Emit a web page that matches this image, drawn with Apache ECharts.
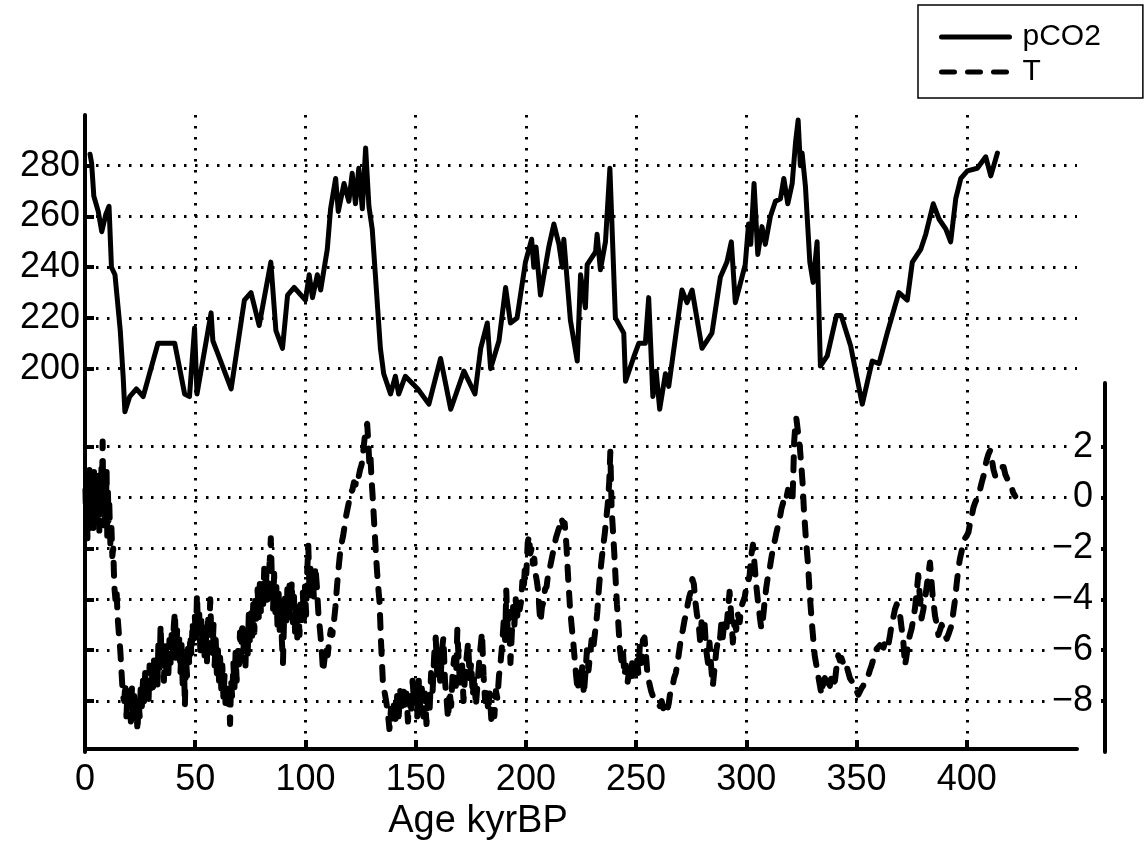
<!DOCTYPE html>
<html>
<head>
<meta charset="utf-8">
<script src="https://cdn.jsdelivr.net/npm/echarts@6/dist/echarts.min.js"></script>
<style>
  html, body { margin: 0; padding: 0; background: #fff; }
  #chart { width: 1145px; height: 846px; }
</style>
</head>
<body>
<div id="chart"></div>
<script>
// Vostok ice core: atmospheric CO2 (ppmv) against age (kyr BP)
const co2Data = [
  [2.3, 284.5], [3.0, 281], [4.0, 268], [6.0, 262], [7.6, 254], [9.5, 261], [10.9, 264],
  [12.0, 240], [13.6, 237], [16.0, 215], [17.3, 197], [18.1, 183], [20.3, 189], [23.3, 192],
  [26.4, 189], [33.1, 210], [40.7, 210], [45.2, 190], [47.4, 189], [49.7, 216], [50.8, 190],
  [57.2, 222], [58.0, 211], [60.2, 206], [66.3, 192], [72.3, 227], [75.3, 230], [79.0, 217],
  [84.3, 242], [86.6, 215], [89.6, 208], [91.9, 229], [94.9, 232], [100.0, 227], [101.7, 237],
  [103.2, 228], [105.4, 237], [106.9, 231], [109.9, 247], [111.4, 263], [113.7, 275], [114.9, 262],
  [117.5, 273], [119.7, 266], [121.2, 277], [122.7, 265], [124.2, 279], [125.8, 263], [127.3, 287],
  [128.8, 264], [130.3, 255], [134.0, 208], [135.5, 198], [138.6, 190], [140.8, 197], [142.3, 190],
  [145.3, 197], [151.0, 192], [156.0, 186], [161.3, 204], [165.9, 184], [171.9, 199], [176.9, 190],
  [179.5, 208], [182.5, 218], [184.0, 200], [187.8, 211], [190.8, 232], [193.0, 218], [196.0, 220],
  [199.8, 242], [202.6, 251], [203.6, 240], [204.6, 248], [206.6, 229], [210.4, 248], [212.7, 257],
  [215.0, 249], [216.5, 240], [217.2, 251], [220.2, 219], [223.3, 203], [224.8, 237], [227.0, 224],
  [227.8, 241], [231.6, 246], [232.3, 253], [233.8, 239], [236.1, 250], [238.1, 279], [240.6, 220],
  [244.4, 214], [245.2, 195], [248.9, 204.5], [251.2, 210], [254.2, 210], [255.7, 228], [257.6, 189],
  [259.1, 199], [260.7, 184], [263.3, 198], [264.8, 193], [270.8, 231], [273.1, 226], [275.4, 231],
  [279.9, 208], [284.4, 214], [288.2, 236], [291.2, 242], [293.2, 250], [295.0, 226], [299.5, 241],
  [301.0, 257], [302.0, 249], [303.5, 273], [305.2, 245], [307.1, 256], [308.6, 249], [310.9, 260],
  [313.2, 266], [315.5, 267], [317.0, 275], [318.8, 265], [320.8, 273], [322.3, 289], [323.5, 298],
  [324.5, 280], [325.3, 285], [326.8, 272], [328.8, 242], [330.3, 234], [332.1, 250], [333.6, 201],
  [336.7, 205], [340.9, 221], [343.0, 221], [347.3, 209], [352.6, 186], [357.1, 203], [360.2, 202],
  [363.9, 214], [369.2, 230], [373.0, 227], [375.3, 242], [379.1, 247], [381.4, 253], [384.8, 265],
  [387.4, 259], [390.5, 255], [392.7, 250], [395.0, 267], [397.3, 275], [400.3, 278], [404.8, 279],
  [408.6, 283.5], [410.9, 276], [413.9, 285]
];

// Vostok ice core: temperature anomaly (deg C) against age (kyr BP)
const tempData = [
  [0.2, 0.3], [0.5, -0.9], [0.8, 0.9], [1.1, -1.6], [1.4, 0.5], [1.7, -0.4], [2.0, 1.2], [2.3, -1.2],
  [2.6, 0.2], [2.9, 0.8], [3.2, -0.8], [3.5, 0.4], [3.8, -1.4], [4.1, 1.0], [4.4, -0.3], [4.7, 0.6],
  [5.0, -1.0], [5.3, 0.9], [5.6, -0.6], [5.9, 0.2], [6.2, 1.1], [6.5, -1.3], [6.8, 0.4], [7.1, -0.2],
  [7.4, 1.3], [7.7, 0.0], [8.0, 2.2], [8.3, -0.5], [8.6, 0.8], [8.9, -1.1], [9.2, 0.6], [9.5, -0.4],
  [9.8, 1.0], [10.1, -1.5], [10.4, 0.2], [10.7, -0.9], [11.0, -0.2],
  [11.5, -1.8], [12.0, -1.2], [12.4, -2.3], [12.8, -2.0], [13.3, -3.5], [13.8, -4.0], [14.3, -3.6],
  [14.8, -4.7], [15.5, -5.5], [16.0, -6.0], [16.6, -6.9], [17.2, -7.8],
  [17.8, -8.0], [18.3, -7.3], [18.8, -8.6], [19.3, -7.6], [19.8, -8.4], [20.3, -7.9], [20.8, -8.8],
  [21.3, -7.5], [21.8, -8.5], [22.3, -7.8], [22.8, -8.7], [23.3, -8.1], [23.8, -9.2], [24.3, -8.0],
  [24.8, -8.6], [25.3, -7.4], [25.8, -8.2], [26.3, -7.2], [26.8, -8.0], [27.3, -6.9], [27.8, -7.8],
  [28.3, -7.1], [28.8, -8.1], [29.3, -6.6], [29.8, -7.5], [30.3, -6.8], [30.8, -7.7], [31.3, -6.4],
  [31.8, -7.3], [32.3, -6.5], [32.8, -7.6], [33.3, -5.7], [33.8, -6.9], [34.3, -5.0], [34.8, -6.6],
  [35.3, -5.9], [35.8, -7.2], [36.3, -5.8], [36.8, -6.7], [37.3, -6.1], [37.8, -7.0], [38.3, -5.6],
  [38.8, -6.5], [39.3, -5.4], [39.8, -6.2], [40.3, -5.0], [40.8, -4.5], [41.3, -6.3], [41.8, -5.2],
  [42.3, -6.4], [42.8, -5.5], [43.3, -6.9], [43.8, -5.8], [44.3, -7.3], [44.8, -6.0], [45.3, -8.2],
  [45.8, -6.3], [46.3, -7.0], [46.8, -5.7], [47.3, -6.6], [47.8, -5.4], [48.3, -6.2], [48.8, -4.9],
  [49.3, -5.8], [49.8, -4.6], [50.3, -5.6], [50.8, -3.8], [51.3, -5.3], [51.8, -4.5], [52.3, -6.0],
  [52.8, -4.8], [53.3, -5.9], [53.8, -5.1], [54.3, -6.4], [54.8, -5.3], [55.3, -6.5], [55.8, -4.6],
  [56.3, -5.6], [56.8, -4.0], [57.3, -5.4], [57.8, -6.1], [58.3, -5.0], [58.8, -6.6], [59.3, -5.6],
  [59.8, -6.9], [60.3, -6.0], [60.8, -7.2], [61.3, -6.3], [61.8, -7.5], [62.3, -6.6], [62.8, -7.9],
  [63.3, -7.0], [63.8, -8.3], [64.3, -7.3], [64.8, -8.1], [65.3, -7.6], [65.8, -8.9], [66.3, -7.2],
  [66.8, -7.9], [67.3, -6.5], [67.8, -7.5], [68.3, -6.1], [68.8, -7.2], [69.3, -5.8], [69.8, -6.8],
  [70.3, -5.3], [70.8, -6.4], [71.3, -4.9], [71.8, -6.1], [72.3, -5.2], [72.8, -6.6], [73.3, -5.0],
  [73.8, -6.2], [74.3, -4.6], [74.8, -5.7], [75.3, -4.4], [75.8, -5.5], [76.3, -4.2], [76.8, -5.3],
  [77.3, -3.9], [77.8, -5.0], [78.3, -3.6], [78.8, -4.7], [79.3, -3.4], [79.8, -4.5], [80.3, -3.2],
  [80.8, -4.3], [81.3, -2.8], [81.8, -4.0], [82.3, -3.0], [82.8, -4.2], [83.3, -3.1], [83.8, -2.5],
  [84.3, -1.6], [84.8, -3.3], [85.3, -4.4], [85.8, -3.0], [86.3, -4.6], [86.8, -3.5], [87.3, -5.0],
  [87.8, -3.6], [88.3, -5.2], [88.8, -4.0], [89.3, -5.6], [89.8, -6.5], [90.3, -4.8], [90.8, -3.8],
  [91.3, -5.0], [91.8, -3.6], [92.3, -4.7], [92.8, -3.4], [93.3, -4.4], [93.8, -3.3], [94.3, -4.9],
  [94.8, -3.9], [95.3, -5.3], [95.8, -4.1], [96.3, -5.5], [96.8, -4.3], [97.3, -5.4], [97.8, -4.0],
  [98.3, -5.0], [98.8, -3.7], [99.3, -4.8], [99.8, -3.5], [100.3, -4.6], [100.8, -2.9], [101.3, -1.9],
  [101.8, -3.6], [102.3, -2.8], [102.8, -4.0], [103.3, -3.0], [103.8, -3.9], [104.5, -2.7], [105.2, -3.5],
  [105.9, -4.6], [106.6, -5.2], [107.3, -5.9], [108.0, -6.85], [108.7, -6.3], [109.4, -5.8], [110.1, -6.2],
  [110.8, -5.6], [111.5, -5.2], [112.2, -5.4], [112.9, -4.9], [113.6, -4.3], [114.3, -3.5], [115.0, -2.8],
  [115.7, -2.2], [116.4, -1.8], [117.1, -1.5], [117.8, -1.1], [118.5, -0.7], [119.2, -0.4], [119.9, -0.1],
  [120.6, 0.2], [121.3, 0.3], [122.0, 0.6], [122.7, 0.5], [123.4, 0.9], [124.1, 0.8], [124.8, 1.1],
  [125.5, 1.3], [126.2, 1.8], [126.8, 2.3], [127.4, 2.6], [128.0, 2.9], [128.5, 2.2], [129.0, 1.3],
  [129.5, 1.6], [130.0, 0.7], [130.6, -0.1], [131.3, -1.2], [132.1, -2.4], [132.8, -3.3], [133.6, -4.1],
  [134.3, -5.7], [135.1, -7.2], [135.8, -7.6], [136.6, -8.0], [137.3, -8.4], [138.1, -9.1], [138.8, -8.3],
  [139.5, -8.9], [140.2, -8.0], [140.9, -8.7], [141.6, -7.8], [142.3, -8.6], [143.0, -7.6], [143.7, -8.4],
  [144.4, -7.4], [145.1, -8.3], [145.8, -7.7], [146.5, -8.8], [147.2, -7.9], [147.9, -8.5], [148.6, -7.2],
  [149.3, -8.1], [150.0, -7.3], [150.7, -8.6], [151.4, -7.2], [152.1, -8.3], [152.8, -7.5], [153.5, -8.6],
  [154.2, -7.7], [154.9, -8.9], [155.6, -7.9], [156.3, -8.4], [157.0, -6.9], [157.7, -7.6], [158.4, -6.2],
  [159.1, -5.5], [159.8, -7.0], [160.5, -6.1], [161.2, -7.4], [161.9, -6.0], [162.6, -5.5], [163.3, -7.2],
  [164.0, -7.9], [164.7, -8.7], [165.4, -7.6], [166.1, -8.2], [166.8, -6.8], [167.5, -6.3], [168.2, -7.4],
  [168.9, -5.2], [169.6, -6.6], [170.3, -7.5], [171.0, -6.4], [171.7, -8.0], [172.4, -7.0], [173.1, -6.3],
  [173.8, -5.7], [174.5, -7.1], [175.2, -6.5], [175.9, -7.8], [176.6, -7.0], [177.3, -8.2], [178.0, -7.4],
  [178.7, -6.6], [179.4, -5.9], [180.1, -5.3], [180.8, -7.0], [181.5, -8.0], [182.2, -7.5], [182.9, -8.4],
  [183.6, -7.7], [184.3, -8.7], [185.0, -8.2], [185.7, -8.6], [186.4, -7.6], [187.1, -7.9], [187.8, -7.0],
  [188.5, -6.5], [189.2, -5.8], [189.9, -4.9], [190.6, -5.6], [191.1, -3.65], [191.7, -5.2], [192.3, -4.5],
  [193.0, -6.5], [193.6, -5.4], [194.2, -4.3], [194.8, -5.0], [195.4, -4.0], [196.0, -4.8], [196.6, -3.9],
  [197.2, -4.4], [197.8, -4.1], [198.4, -3.3], [199.0, -3.7], [199.6, -2.6], [200.2, -3.0], [200.8, -1.8],
  [201.4, -1.5], [202.0, -2.2], [202.6, -2.0], [203.2, -2.6], [203.8, -2.4], [204.4, -3.0], [205.0, -3.3],
  [205.6, -3.7], [206.2, -4.5], [206.6, -4.9], [207.3, -4.3], [208.0, -4.1], [208.7, -3.6], [209.4, -3.5],
  [210.1, -3.0], [210.8, -2.8], [211.5, -2.5], [212.2, -2.2], [212.9, -1.9], [213.6, -1.6], [214.3, -1.4],
  [215.0, -1.2], [215.7, -1.3], [216.4, -0.9], [217.1, -1.1], [217.6, -1.0], [218.4, -1.9], [219.2, -3.2],
  [220.0, -4.3], [220.7, -5.0], [221.4, -5.6], [222.1, -6.3], [222.8, -7.0], [223.5, -7.6], [224.2, -6.9],
  [224.9, -7.3], [225.6, -6.6], [226.3, -7.75], [227.0, -6.9], [227.7, -6.0], [228.4, -6.8], [229.1, -6.2],
  [229.8, -5.6], [230.5, -6.0], [231.1, -5.5], [231.8, -5.0], [232.4, -4.5], [233.1, -3.6], [233.8, -2.9],
  [234.4, -2.4], [235.1, -1.9], [235.8, -1.4], [236.5, -0.8], [237.2, -0.2], [237.8, 0.6], [238.3, 1.8],
  [238.9, -0.45], [239.5, -1.3], [240.1, -2.2], [240.7, -3.2], [241.3, -4.2], [241.9, -4.9], [242.6, -5.9],
  [243.3, -6.4], [244.0, -6.0], [244.7, -7.0], [245.4, -6.6], [246.1, -7.3], [246.8, -6.8], [247.5, -7.2],
  [248.2, -6.5], [248.9, -7.0], [249.6, -6.7], [250.3, -6.2], [251.0, -6.9], [251.7, -5.8], [252.4, -6.5],
  [253.1, -5.6], [253.8, -5.5], [254.5, -6.2], [255.2, -7.0], [256.0, -7.3], [256.8, -7.6], [257.6, -7.8],
  [258.4, -7.9], [259.2, -8.0], [260.0, -8.1], [260.8, -8.2], [261.6, -8.0], [262.4, -8.3], [263.2, -8.2],
  [264.0, -8.4], [264.8, -8.1], [265.6, -7.6], [266.4, -7.5], [267.2, -7.1], [268.0, -6.9], [268.8, -6.5],
  [269.6, -6.0], [270.4, -5.5], [271.2, -5.2], [272.0, -4.8], [272.7, -4.6], [273.4, -4.2], [274.1, -3.9],
  [274.8, -3.7], [275.5, -3.2], [276.2, -3.4], [276.9, -4.1], [277.6, -4.6], [278.3, -4.9], [279.0, -5.6],
  [279.7, -4.9], [280.4, -5.4], [281.1, -5.0], [281.8, -6.0], [282.6, -6.5], [283.3, -5.7], [284.0, -6.6],
  [284.8, -7.4], [285.6, -6.7], [286.4, -6.0], [287.2, -5.6], [287.9, -5.7], [288.6, -5.0], [289.3, -5.5],
  [290.0, -4.9], [290.9, -5.2], [291.6, -4.5], [292.4, -3.7], [293.1, -4.6], [293.9, -5.7], [294.6, -4.9],
  [295.4, -5.2], [296.2, -4.6], [297.0, -4.9], [297.7, -4.3], [298.5, -4.1], [299.3, -3.9], [300.0, -3.5],
  [300.8, -3.3], [301.5, -3.05], [302.2, -2.3], [303.0, -1.85], [303.7, -2.6], [304.5, -3.45], [305.3, -4.1],
  [306.0, -4.6], [306.8, -5.15], [307.5, -4.8], [308.3, -4.1], [309.1, -3.5], [309.8, -3.1], [310.6, -2.8],
  [311.3, -2.4], [312.1, -2.0], [312.9, -1.7], [313.6, -1.4], [314.4, -1.1], [315.2, -0.8], [315.9, -0.45],
  [316.7, -0.2], [317.4, 0.1], [318.2, 0.0], [318.9, 0.3], [319.7, 0.2], [320.3, 0.1], [320.9, -0.2],
  [321.3, 0.9], [321.7, 2.2], [322.2, 2.8], [322.7, 3.1], [323.4, 2.6], [324.2, 2.05], [324.9, 1.3],
  [325.5, 0.6], [326.1, -0.45], [327.0, -1.6], [328.0, -2.65], [328.8, -3.85], [329.8, -5.0], [331.0, -6.2],
  [332.6, -7.0], [333.4, -7.4], [334.1, -7.75], [334.8, -7.3], [335.6, -7.1], [336.4, -7.5], [337.1, -7.2],
  [337.9, -7.4], [338.7, -7.0], [339.5, -7.3], [340.2, -7.2], [341.0, -6.6], [341.7, -6.2], [342.4, -6.4],
  [343.1, -6.3], [343.9, -6.5], [344.6, -6.7], [345.4, -6.6], [346.2, -6.85], [347.0, -7.1], [347.7, -7.2],
  [348.5, -7.3], [349.2, -7.4], [350.0, -7.6], [350.8, -7.75], [351.5, -7.7], [352.2, -7.5], [353.0, -7.4],
  [353.8, -7.2], [354.5, -7.1], [355.3, -7.0], [356.0, -6.8], [356.8, -6.6], [357.5, -6.4], [358.3, -6.2],
  [359.1, -5.95], [359.8, -6.0], [360.6, -5.8], [361.4, -5.75], [362.2, -5.9], [362.9, -5.7], [363.7, -5.9],
  [364.4, -5.8], [365.2, -5.4], [365.9, -5.0], [366.7, -4.7], [367.4, -4.4], [368.2, -4.2], [368.9, -4.3],
  [369.7, -4.6], [370.4, -5.1], [371.2, -5.65], [372.0, -6.6], [372.7, -6.2], [373.5, -5.65], [374.2, -5.4],
  [375.0, -5.15], [375.7, -4.8], [376.5, -4.35], [377.2, -3.8], [378.0, -3.05], [378.7, -3.9], [379.5, -4.75],
  [380.3, -4.4], [381.1, -4.0], [381.8, -3.5], [382.6, -3.0], [383.3, -2.55], [383.9, -3.2], [384.5, -3.85],
  [385.0, -4.2], [385.6, -4.65], [386.4, -5.0], [387.1, -5.4], [387.9, -5.2], [388.6, -5.0], [389.4, -5.2],
  [390.1, -5.4], [390.9, -5.55], [391.6, -5.4], [392.4, -5.2], [393.2, -5.0], [393.9, -4.5], [394.7, -4.0],
  [395.4, -3.4], [396.2, -2.8], [396.9, -2.4], [397.7, -2.1], [398.5, -1.75], [399.2, -1.6], [400.0, -1.5],
  [400.8, -1.35], [401.5, -1.0], [402.3, -0.7], [403.0, -0.4], [403.8, -0.2], [404.5, -0.15], [405.3, 0.1],
  [406.1, 0.35], [406.8, 0.6], [407.6, 0.85], [408.3, 1.2], [409.1, 1.5], [409.8, 1.7], [410.6, 1.85],
  [411.4, 1.5], [412.1, 1.1], [412.9, 0.85], [413.6, 1.0], [414.4, 1.1], [415.2, 1.2], [416.0, 1.25],
  [416.7, 1.2], [417.5, 0.9], [418.3, 0.75], [419.0, 0.75], [420.0, 0.5], [421.0, 0.2], [422.0, 0.05]
];

const ageTicks = [0, 50, 100, 150, 200, 250, 300, 350, 400];
const co2Ticks = [200, 220, 240, 260, 280];
const tempTicks = [-8, -6, -4, -2, 0, 2];

const FONT = '"Liberation Sans", Arial, Helvetica, sans-serif';
const AGE_MAX = 450;
const CO2_RANGE = [50, 300];
const TEMP_RANGE = [-10, 4.5];

// plot frame (pixels)
const LEFT = 85, TOP_CO2 = 115, TOP_T = 383, BOTTOM = 752;
const RIGHT_CO2 = 1077, RIGHT_T = 1105;

const dotted = { color: '#000', type: [2.5, 8.5], width: 3 };
const spine = { color: '#000', width: 4 };

const chart = echarts.init(document.getElementById('chart'), null, { renderer: 'canvas' });

chart.setOption({
  animation: false,
  backgroundColor: '#fff',
  grid: [
    { left: LEFT, top: TOP_CO2, width: RIGHT_CO2 - LEFT, height: BOTTOM - TOP_CO2 },
    { left: LEFT, top: TOP_T, width: RIGHT_T - LEFT, height: BOTTOM - TOP_T }
  ],
  legend: {
    orient: 'vertical',
    left: 918,
    top: 5,
    data: ['pCO2', 'T'],
    itemWidth: 68,
    itemHeight: 14,
    itemGap: 5,
    padding: [17, 42, 11, 21],
    borderColor: '#000',
    borderWidth: 1.5,
    selectedMode: false,
    itemStyle: { opacity: 0 },
    lineStyle: { width: 5, cap: 'round' },
    textStyle: { fontSize: 30, color: '#000', fontFamily: FONT, padding: [0, 0, 0, 8] }
  },
  xAxis: [
    {
      type: 'value', gridIndex: 0, min: 0, max: AGE_MAX,
      axisLine: { show: true, onZero: false, lineStyle: spine },
      axisTick: { show: true, inside: true, length: 9, customValues: ageTicks, lineStyle: spine },
      axisLabel: { customValues: ageTicks, color: '#000', fontSize: 36, fontFamily: FONT, margin: 13 },
      splitLine: { show: true, lineStyle: dotted },
      name: 'Age kyrBP', nameLocation: 'middle', nameGap: 44,
      nameTextStyle: { color: '#000', fontSize: 38, fontFamily: FONT, padding: [0, 206, 0, 0] }
    },
    {
      type: 'value', gridIndex: 1, min: 0,
      max: AGE_MAX * (RIGHT_T - LEFT) / (RIGHT_CO2 - LEFT),
      show: false
    }
  ],
  yAxis: [
    {
      type: 'value', gridIndex: 0, position: 'left', min: CO2_RANGE[0], max: CO2_RANGE[1],
      axisLine: { show: true, onZero: false, lineStyle: spine },
      axisTick: { show: true, inside: true, length: 9, customValues: co2Ticks, lineStyle: spine },
      axisLabel: { customValues: co2Ticks, color: '#000', fontSize: 36, fontFamily: FONT, margin: 5 },
      splitLine: { show: true, lineStyle: dotted }
    },
    {
      type: 'value', gridIndex: 1, position: 'right', min: TEMP_RANGE[0], max: TEMP_RANGE[1],
      axisLine: { show: true, onZero: false, lineStyle: spine },
      axisTick: { show: true, inside: true, length: 5, customValues: tempTicks, lineStyle: spine },
      axisLabel: {
        customValues: tempTicks, inside: true, margin: 4,
        color: '#000', fontSize: 36, fontFamily: FONT,
        backgroundColor: '#fff', padding: [0, 8, 0, 4],
        formatter: v => (v < 0 ? '\u2212' + Math.abs(v) : String(v))
      },
      splitLine: { show: true, lineStyle: dotted }
    },
    {
      type: 'value', gridIndex: 1, position: 'left', min: TEMP_RANGE[0], max: TEMP_RANGE[1],
      axisLine: { show: true, onZero: false, lineStyle: spine },
      axisTick: { show: true, inside: true, length: 9, customValues: tempTicks, lineStyle: spine },
      axisLabel: { show: false },
      splitLine: { show: false }
    }
  ],
  series: [
    {
      name: 'pCO2', type: 'line', xAxisIndex: 0, yAxisIndex: 0,
      data: co2Data, symbol: 'none', silent: true,
      itemStyle: { color: '#000' },
      lineStyle: { color: '#000', width: 5, join: 'round', cap: 'round' }
    },
    {
      name: 'T', type: 'line', xAxisIndex: 1, yAxisIndex: 1,
      data: tempData, symbol: 'none', silent: true,
      itemStyle: { color: '#000' },
      lineStyle: { color: '#000', width: 6, type: [13, 13], join: 'round', cap: 'round' }
    }
  ]
});
</script>
</body>
</html>
